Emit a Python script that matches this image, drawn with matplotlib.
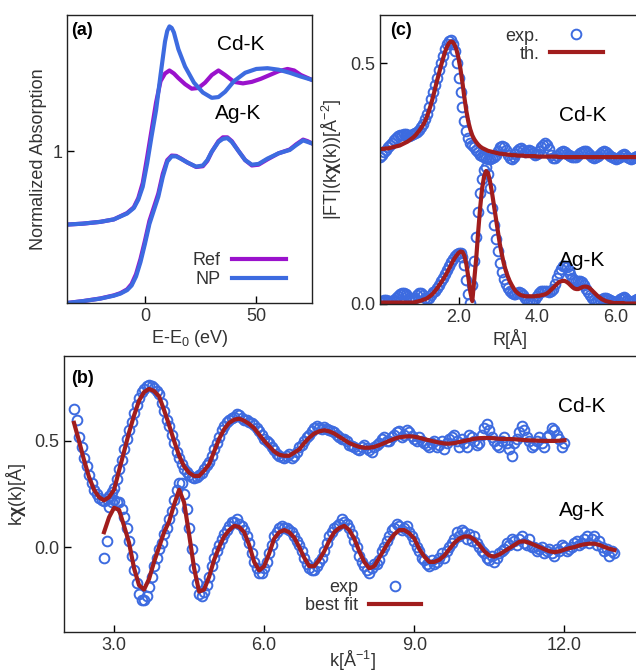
import matplotlib
matplotlib.use("Agg")
import matplotlib.pyplot as plt
import numpy as np

plt.rcParams['font.family'] = ['Liberation Sans', 'DejaVu Sans']
plt.rcParams['mathtext.fontset'] = 'custom'
plt.rcParams['mathtext.rm'] = 'Liberation Sans'
plt.rcParams['mathtext.bf'] = 'Liberation Sans:bold'

BLUE = '#3d6be0'
PURPLE = '#9a12cc'
RED = '#a11d1d'
GREY = '#333333'

# ---- panel (a): XANES ----
e_cd_np = [-35, -28, -20, -14, -8, -5, -3, -1, 1, 3, 5, 7, 9, 10, 11, 12, 13, 15, 18, 22,
           26, 30, 33, 36, 40, 45, 50, 55, 60, 65, 70, 75]
cd_np = [0.516, 0.522, 0.534, 0.55, 0.589, 0.625, 0.68, 0.765, 0.92, 1.1, 1.27, 1.50, 1.72,
         1.79, 1.82, 1.81, 1.78, 1.67, 1.556, 1.45, 1.385, 1.35, 1.355, 1.39, 1.46, 1.515,
         1.54, 1.545, 1.535, 1.515, 1.49, 1.468]
e_cd_ref = [-35, -28, -20, -14, -8, -5, -3, -1, 1, 3, 5, 7, 9, 11, 13, 15, 18, 21, 24, 27,
            30, 33, 36, 40, 44, 48, 52, 56, 60, 64, 67, 70, 75]
cd_ref = [0.516, 0.522, 0.534, 0.55, 0.592, 0.63, 0.69, 0.79, 0.96, 1.14, 1.32, 1.46, 1.51,
          1.53, 1.51, 1.48, 1.44, 1.41, 1.415, 1.45, 1.50, 1.53, 1.50, 1.455, 1.445, 1.455,
          1.475, 1.50, 1.525, 1.54, 1.53, 1.50, 1.468]
e_ag = [-35, -28, -20, -14, -11, -8, -6, -4, -2, 0, 2, 4, 6, 8, 10, 12, 14, 16, 19, 23, 26,
        28, 30, 33, 35, 37, 39, 42, 45, 48, 51, 55, 60, 65, 68, 71, 73, 75]
ag_np = [0.0, 0.012, 0.029, 0.048, 0.062, 0.085, 0.115, 0.175, 0.27, 0.39, 0.52, 0.61, 0.70,
         0.83, 0.93, 0.965, 0.965, 0.95, 0.925, 0.897, 0.905, 0.94, 0.996, 1.06, 1.08, 1.085,
         1.06, 1.0, 0.94, 0.91, 0.915, 0.95, 0.985, 1.007, 1.04, 1.07, 1.06, 1.05]
ag_ref = [0.0, 0.012, 0.03, 0.05, 0.065, 0.09, 0.125, 0.19, 0.29, 0.41, 0.54, 0.63, 0.72,
          0.85, 0.94, 0.97, 0.968, 0.952, 0.925, 0.895, 0.9, 0.935, 0.995, 1.065, 1.09, 1.09,
          1.065, 1.0, 0.94, 0.905, 0.91, 0.945, 0.985, 1.01, 1.045, 1.075, 1.065, 1.05]

# ---- panel (b): k-space EXAFS ----
# experiment sampled every 0.05 A^-1, fit every 0.1 A^-1
K_STEP_EXP = 0.05
K_STEP_FIT = 0.1
k0_cd = 2.2
cd_k_exp = [0.65, 0.60, 0.52, 0.47, 0.42, 0.38, 0.34, 0.30, 0.27, 0.25, 0.23, 0.22, 0.215,
            0.225, 0.24, 0.26,
            0.28, 0.32, 0.37, 0.41, 0.46, 0.51, 0.55, 0.59, 0.63, 0.67, 0.70, 0.73, 0.745,
            0.76, 0.765, 0.76, 0.75, 0.735, 0.72, 0.68,
            0.64, 0.60, 0.57, 0.53, 0.49, 0.45, 0.42, 0.39, 0.37, 0.355, 0.34, 0.33, 0.325,
            0.33, 0.34, 0.35, 0.37, 0.385, 0.40, 0.43,
            0.46, 0.49, 0.52, 0.55, 0.57, 0.59, 0.60, 0.61, 0.615, 0.625, 0.62, 0.61, 0.60,
            0.60, 0.59, 0.585, 0.575, 0.56, 0.545, 0.53,
            0.51, 0.50, 0.49, 0.47, 0.455, 0.44, 0.43, 0.425, 0.42, 0.43, 0.44, 0.42, 0.43,
            0.45, 0.47, 0.48, 0.50, 0.52, 0.53, 0.545,
            0.56, 0.57, 0.56, 0.555, 0.565, 0.555, 0.55, 0.545, 0.54, 0.53, 0.52, 0.51, 0.51,
            0.50, 0.48, 0.475, 0.47, 0.46, 0.455, 0.47,
            0.48, 0.465, 0.455, 0.45, 0.47, 0.48, 0.49, 0.51, 0.52, 0.50, 0.50, 0.52, 0.53,
            0.54, 0.545, 0.52, 0.53, 0.55, 0.54, 0.525,
            0.51, 0.50, 0.52, 0.50, 0.49, 0.48, 0.47, 0.49, 0.50, 0.47, 0.48, 0.50, 0.46,
            0.49, 0.51, 0.52, 0.53, 0.50, 0.47, 0.51,
            0.49, 0.47, 0.53, 0.52, 0.50, 0.48, 0.49, 0.53, 0.56, 0.58, 0.55, 0.52, 0.50,
            0.48, 0.47, 0.50, 0.52, 0.49, 0.46, 0.43,
            0.49, 0.51, 0.54, 0.57, 0.55, 0.52, 0.50, 0.47, 0.48, 0.50, 0.52, 0.49, 0.47,
            0.52, 0.53, 0.56, 0.55, 0.53, 0.51, 0.47,
            0.49]
cd_k_fit = [0.585, 0.50, 0.41, 0.33, 0.27, 0.235, 0.22, 0.235, 0.27, 0.36, 0.45, 0.54, 0.62,
            0.69, 0.73, 0.745, 0.735, 0.71, 0.645, 0.575, 0.50, 0.43, 0.38, 0.35, 0.335,
            0.335, 0.36, 0.39, 0.45, 0.51, 0.555, 0.585, 0.60, 0.605, 0.595, 0.58, 0.56, 0.53,
            0.50, 0.475, 0.45, 0.435, 0.43, 0.43, 0.445, 0.46, 0.49, 0.515, 0.535, 0.545,
            0.55, 0.545, 0.535, 0.52, 0.505, 0.49, 0.48, 0.472, 0.468, 0.468, 0.472, 0.48,
            0.49, 0.50, 0.51, 0.517, 0.52, 0.522, 0.52, 0.515, 0.508, 0.503, 0.497, 0.492,
            0.488, 0.487, 0.49, 0.495, 0.50, 0.505, 0.51, 0.513, 0.514, 0.514, 0.512, 0.51,
            0.509, 0.509, 0.508, 0.506, 0.504, 0.503, 0.502, 0.501, 0.50, 0.50, 0.50, 0.501,
            0.503]
k0_ag = 2.8
ag_k_exp = [-0.05, 0.03, 0.19, 0.21,
            0.22, 0.21, 0.21, 0.18, 0.14, 0.09, 0.03, -0.04, -0.11, -0.17, -0.22, -0.25,
            -0.25, -0.23, -0.19, -0.14, -0.09, -0.05, -0.01, 0.02,
            0.06, 0.09, 0.13, 0.17, 0.22, 0.27, 0.30, 0.30, 0.25, 0.18, 0.09, -0.01, -0.10,
            -0.17, -0.22, -0.23, -0.21, -0.18, -0.14, -0.09,
            -0.05, -0.02, 0.01, 0.04, 0.06, 0.08, 0.10, 0.12, 0.12, 0.13, 0.11, 0.10, 0.08,
            0.05, 0.02, -0.03, -0.07, -0.10, -0.12, -0.12,
            -0.10, -0.07, -0.03, 0.01, 0.05, 0.07, 0.09, 0.10, 0.09, 0.09, 0.08, 0.07, 0.05,
            0.03, 0.01, -0.02, -0.05, -0.08, -0.10, -0.11,
            -0.11, -0.09, -0.07, -0.05, -0.02, 0.02, 0.05, 0.07, 0.09, 0.10, 0.11, 0.13, 0.12,
            0.11, 0.09, 0.06, 0.03, 0.0, -0.04, -0.07,
            -0.09, -0.11, -0.12, -0.10, -0.08, -0.08, -0.06, -0.02, 0.0, 0.03, 0.05, 0.08,
            0.09, 0.11, 0.10, 0.08, 0.09, 0.10, 0.07, 0.05,
            0.03, 0.0, -0.02, -0.05, -0.06, -0.08, -0.09, -0.06, -0.08, -0.07, -0.05, -0.03,
            -0.05, -0.02, 0.0, 0.02, 0.04, 0.07, 0.05, 0.08,
            0.07, 0.04, 0.06, 0.03, 0.05, 0.02, 0.0, -0.02, -0.03, -0.05, -0.06, -0.04, -0.07,
            -0.05, -0.03, -0.02, -0.01, 0.02, 0.01, 0.04,
            0.03, 0.01, 0.04, 0.05, 0.02, 0.01, 0.04, 0.0, 0.0, -0.02, -0.01, 0.0, -0.03,
            -0.02, -0.01, -0.03, -0.04, -0.01, -0.02, 0.01,
            0.0, -0.02, -0.01, 0.0, 0.02, 0.03, 0.01, 0.02, 0.04, 0.05, 0.02, 0.04, 0.05, 0.01,
            0.03, 0.0, -0.02, -0.01, -0.04, -0.02,
            -0.03]
ag_k_fit = [0.07, 0.14, 0.185, 0.175, 0.10, 0.02, -0.10, -0.18, -0.20, -0.15, -0.07, 0.0,
            0.07, 0.12, 0.20, 0.27, 0.21, 0.06, -0.10, -0.21, -0.20, -0.14, -0.06, 0.0, 0.05,
            0.08, 0.10, 0.095, 0.07, 0.01, -0.07, -0.11, -0.09, -0.03, 0.04, 0.07, 0.08, 0.07,
            0.045, 0.0, -0.05, -0.09, -0.09, -0.06, -0.02, 0.03, 0.07, 0.09, 0.10, 0.08, 0.04,
            -0.02, -0.07, -0.10, -0.09, -0.05, -0.01, 0.03, 0.06, 0.08, 0.08, 0.065, 0.04,
            -0.01, -0.045, -0.07, -0.07, -0.06, -0.04, -0.01, 0.02, 0.04, 0.05, 0.05, 0.035,
            0.01, -0.02, -0.04, -0.045, -0.035, -0.02, -0.005, 0.01, 0.025, 0.027, 0.02, 0.01,
            0.0, -0.01, -0.02, -0.024, -0.02, -0.012, -0.005, 0.0, 0.008, 0.013, 0.016, 0.016,
            0.01, 0.0, -0.008, -0.014]

# ---- panel (c): Fourier transforms, sampled every 0.05 A ----
R_STEP = 0.05
cd_r_exp = [0.305, 0.31, 0.315, 0.32, 0.325, 0.33, 0.335, 0.34, 0.345, 0.348, 0.35, 0.35,
            0.352, 0.352, 0.35, 0.348, 0.35, 0.352, 0.355, 0.358, 0.362, 0.368, 0.374, 0.384,
            0.395, 0.41, 0.425, 0.44, 0.455, 0.47, 0.485, 0.50, 0.515, 0.53, 0.54, 0.547,
            0.548, 0.54, 0.525, 0.50, 0.47, 0.44, 0.41, 0.38, 0.36, 0.345, 0.335, 0.33, 0.325,
            0.32, 0.315, 0.31, 0.308, 0.305, 0.303, 0.302, 0.302, 0.303, 0.305, 0.31, 0.318,
            0.325, 0.327, 0.325, 0.32, 0.31, 0.303, 0.302, 0.305, 0.312, 0.318, 0.322, 0.324,
            0.32, 0.315, 0.318, 0.32, 0.318, 0.314, 0.31, 0.312, 0.318, 0.325, 0.33, 0.335,
            0.33, 0.322, 0.31, 0.303, 0.303, 0.307, 0.312, 0.315, 0.318, 0.316, 0.312, 0.31,
            0.308, 0.306, 0.305, 0.306, 0.31, 0.313, 0.316, 0.318, 0.317, 0.314, 0.31, 0.306,
            0.304, 0.305, 0.308, 0.312, 0.316, 0.318, 0.316, 0.312, 0.308, 0.305, 0.303,
            0.302, 0.303, 0.306, 0.31, 0.312, 0.31, 0.306, 0.303, 0.302, 0.303, 0.306, 0.308,
            0.308]
cd_r_th = [0.322, 0.322, 0.322, 0.323, 0.323, 0.324, 0.325, 0.326, 0.327, 0.328, 0.329,
           0.331, 0.333, 0.335, 0.337, 0.34, 0.343, 0.346, 0.35, 0.355, 0.36, 0.366, 0.372,
           0.38, 0.39, 0.402, 0.415, 0.43, 0.446, 0.463, 0.478, 0.494, 0.508, 0.522, 0.533,
           0.541, 0.545, 0.544, 0.538, 0.527, 0.51, 0.487, 0.459, 0.428, 0.4, 0.378, 0.362,
           0.35, 0.342, 0.336, 0.331, 0.327, 0.324, 0.322, 0.32, 0.318, 0.317, 0.316, 0.315,
           0.314, 0.313, 0.312, 0.312, 0.311, 0.311, 0.31, 0.31, 0.309, 0.309, 0.309, 0.308,
           0.308, 0.308, 0.308, 0.307, 0.307, 0.307, 0.307, 0.307, 0.307, 0.306, 0.306,
           0.306, 0.306, 0.306, 0.306, 0.306, 0.306, 0.306, 0.306, 0.306, 0.305, 0.305,
           0.305, 0.305, 0.305, 0.305, 0.305, 0.305, 0.305, 0.305, 0.305, 0.305, 0.305,
           0.305, 0.305, 0.305, 0.305, 0.305, 0.305, 0.305, 0.305, 0.305, 0.305, 0.305,
           0.305, 0.305, 0.305, 0.305, 0.305, 0.305, 0.305, 0.305, 0.305, 0.305, 0.305,
           0.305, 0.305, 0.305, 0.305, 0.305, 0.305, 0.305]
ag_r_exp = [0.005, 0.007, 0.008, 0.008, 0.007, 0.006, 0.006, 0.008, 0.012, 0.016, 0.02,
            0.022, 0.022, 0.02, 0.016, 0.012, 0.01, 0.01, 0.013, 0.018, 0.022, 0.022, 0.018,
            0.012, 0.01, 0.012, 0.018, 0.025,
            0.028, 0.034, 0.04, 0.047, 0.055, 0.063, 0.071, 0.079, 0.087, 0.094, 0.1, 0.104,
            0.106, 0.105, 0.098, 0.08, 0.05, 0.02, 0.003,
            0.04, 0.09, 0.14, 0.19, 0.23, 0.26, 0.278, 0.284, 0.27, 0.24, 0.20, 0.165, 0.135,
            0.11, 0.085, 0.066, 0.052, 0.041, 0.033, 0.027, 0.023, 0.02, 0.02, 0.022, 0.025,
            0.022, 0.018, 0.012, 0.008, 0.005, 0.004, 0.006, 0.01, 0.016, 0.022, 0.026, 0.028,
            0.028, 0.026, 0.024, 0.026, 0.032, 0.042, 0.054, 0.065, 0.073, 0.078, 0.079,
            0.076, 0.07, 0.062, 0.055, 0.05, 0.048, 0.048, 0.048, 0.046, 0.04, 0.032, 0.025,
            0.018, 0.012, 0.008, 0.006, 0.006, 0.008, 0.011, 0.013, 0.013, 0.011, 0.008,
            0.006, 0.004, 0.004, 0.006, 0.01, 0.013, 0.014, 0.012, 0.009, 0.006, 0.004, 0.005,
            0.008, 0.01, 0.012]
ag_r_th = [0.003, 0.003, 0.003, 0.003, 0.003, 0.003, 0.003, 0.003, 0.003, 0.003, 0.003,
           0.003, 0.003, 0.003, 0.003, 0.003, 0.003, 0.003, 0.004, 0.005, 0.006, 0.007,
           0.009, 0.01, 0.012, 0.015, 0.018, 0.022, 0.027, 0.032, 0.038, 0.044, 0.05, 0.057,
           0.064, 0.072, 0.08, 0.088, 0.095, 0.101, 0.106, 0.109, 0.108, 0.1, 0.082, 0.055,
           0.025, 0.006, 0.05, 0.095, 0.15, 0.2, 0.24, 0.265, 0.276, 0.272, 0.255, 0.232,
           0.205, 0.178, 0.15, 0.125, 0.104, 0.085, 0.07, 0.058, 0.048, 0.04, 0.033, 0.027,
           0.023, 0.02, 0.018, 0.017, 0.016, 0.016, 0.016, 0.016, 0.016, 0.016, 0.017, 0.017,
           0.018, 0.019, 0.02, 0.022, 0.025, 0.029, 0.033, 0.037, 0.041, 0.045, 0.047, 0.048,
           0.048, 0.046, 0.043, 0.039, 0.035, 0.032, 0.031, 0.031, 0.033, 0.035, 0.036,
           0.036, 0.035, 0.032, 0.028, 0.024, 0.02, 0.016, 0.013, 0.01, 0.008, 0.006, 0.005,
           0.004, 0.003, 0.002, 0.002, 0.002, 0.002, 0.002, 0.002, 0.001, 0.001, 0.001,
           0.001, 0.001, 0.001, 0.001, 0.001]


def style_axes(ax):
    ax.tick_params(direction='in', length=5, width=1, labelsize=13, labelcolor=GREY,
                   top=False, right=False)
    for s in ax.spines.values():
        s.set_linewidth(1.0)
        s.set_color('#222222')


fig = plt.figure(figsize=(6.36, 6.72), dpi=100)
W, H = 636.0, 672.0


def add_axes(left, top, right, bottom):
    return fig.add_axes([left / W, 1 - bottom / H, (right - left) / W, (bottom - top) / H])


circ = dict(ls='none', marker='o', mfc='none', mec=BLUE, ms=7, mew=1.4)

# panel (a)
ax_a = add_axes(67, 15, 312, 303)
ax_a.plot(e_cd_ref, cd_ref, color=PURPLE, lw=3, label='Ref')
ax_a.plot(e_cd_np, cd_np, color=BLUE, lw=3, label='NP')
ax_a.plot(e_ag, ag_ref, color=PURPLE, lw=3)
ax_a.plot(e_ag, ag_np, color=BLUE, lw=3)
ax_a.set_xlim(-35, 75)
ax_a.set_ylim(0, 1.895)
ax_a.set_xticks([0, 50])
ax_a.set_yticks([1])
ax_a.set_xlabel('E-E$_0$ (eV)', fontsize=13, color=GREY, labelpad=2)
ax_a.set_ylabel('Normalized Absorption', fontsize=13, color=GREY, labelpad=4)
ax_a.text(0.015, 0.975, '(a)', transform=ax_a.transAxes, fontsize=13, fontweight='bold',
          va='top', ha='left')
ax_a.text(43, 1.70, 'Cd-K', fontsize=15, ha='center', va='center')
ax_a.text(42, 1.25, 'Ag-K', fontsize=15, ha='center', va='center')
ax_a.legend(loc='lower right', bbox_to_anchor=(0.93, 0.02), frameon=False, fontsize=13,
            markerfirst=False, handlelength=3.0, handletextpad=0.6, labelspacing=0.1,
            borderpad=0, labelcolor=GREY)
style_axes(ax_a)

# panel (c)
ax_c = add_axes(380, 15, 640, 304)
ax_c.plot(R_STEP * np.arange(len(cd_r_exp)), cd_r_exp, label='exp.', **circ)
ax_c.plot(R_STEP * np.arange(len(ag_r_exp)), ag_r_exp, **circ)
ax_c.plot(R_STEP * np.arange(len(cd_r_th)), cd_r_th, color=RED, lw=3, label='th.')
ax_c.plot(R_STEP * np.arange(len(ag_r_th)), ag_r_th, color=RED, lw=3)
ax_c.set_xlim(0.0, 6.62)
ax_c.set_ylim(0.0, 0.6)
ax_c.set_xticks([2.0, 4.0, 6.0])
ax_c.set_xticklabels(['2.0', '4.0', '6.0'])
ax_c.set_yticks([0.0, 0.5])
ax_c.set_yticklabels(['0.0', '0.5'])
ax_c.set_xlabel('R[Å]', fontsize=13, color=GREY, labelpad=2)
ax_c.set_ylabel(r'|FT|(k$\mathbf{\chi}$(k))[Å$^{-2}$]', fontsize=13, color=GREY, labelpad=4)
ax_c.text(0.04, 0.975, '(c)', transform=ax_c.transAxes, fontsize=13, fontweight='bold',
          va='top', ha='left')
ax_c.text(5.15, 0.391, 'Cd-K', fontsize=15, ha='center', va='center')
ax_c.text(5.14, 0.09, 'Ag-K', fontsize=15, ha='center', va='center')
ax_c.legend(loc='upper right', bbox_to_anchor=(0.905, 1.0), frameon=False, fontsize=13,
            markerfirst=False, handlelength=2.9, handletextpad=0.6, labelspacing=0.05,
            borderpad=0.2, labelcolor=GREY)
style_axes(ax_c)

# panel (b)
ax_b = add_axes(64, 356, 640, 632)
ax_b.plot(k0_cd + K_STEP_EXP * np.arange(len(cd_k_exp)), cd_k_exp, label='exp', **circ)
ax_b.plot(k0_ag + K_STEP_EXP * np.arange(len(ag_k_exp)), ag_k_exp, **circ)
ax_b.plot(k0_cd + K_STEP_FIT * np.arange(len(cd_k_fit)), cd_k_fit, color=RED, lw=3,
          label='best fit')
ax_b.plot(k0_ag + K_STEP_FIT * np.arange(len(ag_k_fit)), ag_k_fit, color=RED, lw=3)
ax_b.set_xlim(2.0, 13.51)
ax_b.set_ylim(-0.4, 0.9)
ax_b.set_xticks([3.0, 6.0, 9.0, 12.0])
ax_b.set_xticklabels(['3.0', '6.0', '9.0', '12.0'])
ax_b.set_yticks([0.0, 0.5])
ax_b.set_yticklabels(['0.0', '0.5'])
ax_b.set_xlabel('k[Å$^{-1}$]', fontsize=13, color=GREY, labelpad=-3.5)
ax_b.set_ylabel(r'k$\mathbf{\chi}$(k)[Å]', fontsize=13, color=GREY, labelpad=4)
ax_b.text(0.012, 0.95, '(b)', transform=ax_b.transAxes, fontsize=13, fontweight='bold',
          va='top', ha='left')
ax_b.text(12.35, 0.66, 'Cd-K', fontsize=15, ha='center', va='center')
ax_b.text(12.35, 0.17, 'Ag-K', fontsize=15, ha='center', va='center')
ax_b.legend(loc='lower right', bbox_to_anchor=(0.642, 0.02), frameon=False, fontsize=13,
            markerfirst=False, handlelength=2.9, handletextpad=0.6, labelspacing=0.05,
            borderpad=0.2, labelcolor=GREY)
style_axes(ax_b)

fig.savefig('out.png', dpi=100)
